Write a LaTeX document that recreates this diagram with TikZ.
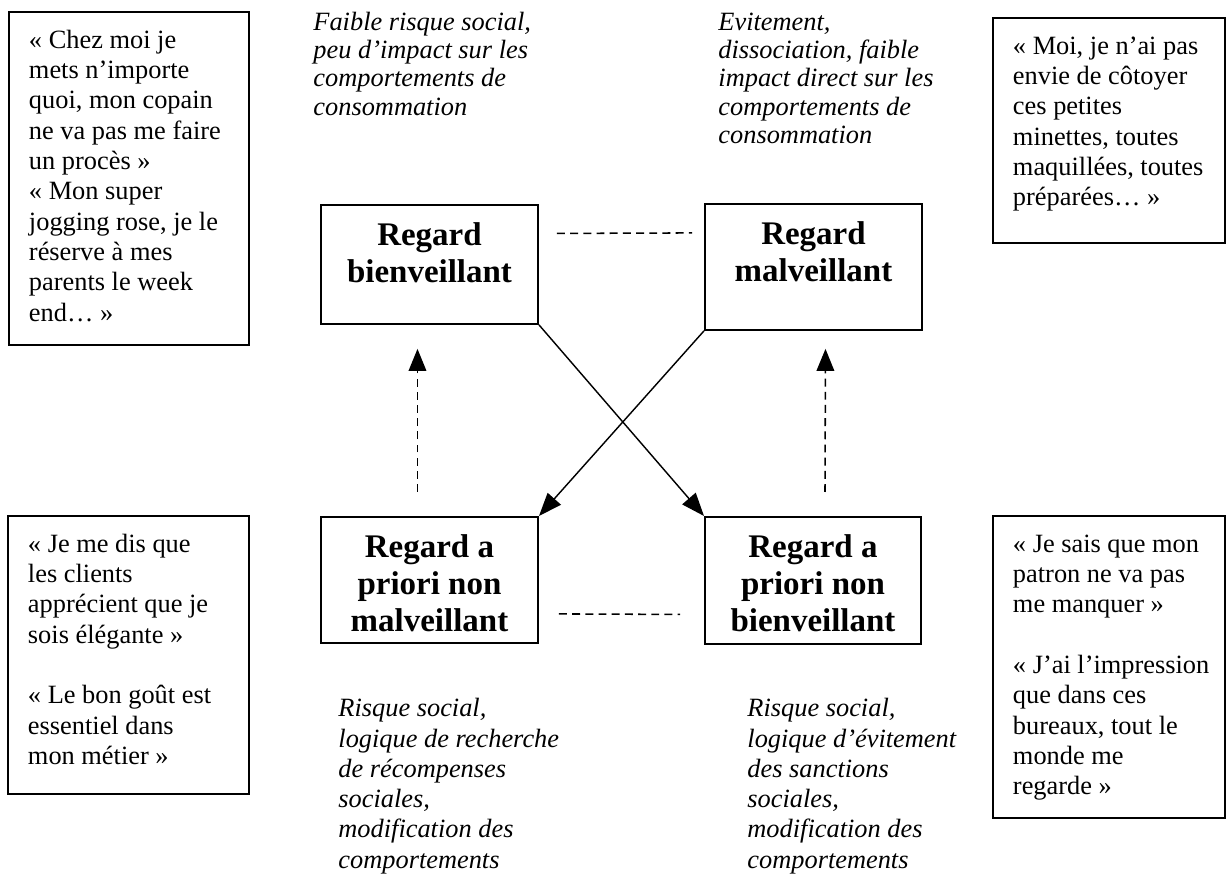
\documentclass[tikz,border=0pt]{standalone}
\usepackage{fontspec}
\setmainfont{Liberation Serif}
\usetikzlibrary{arrows.meta}

\newdimen\px
\px=0.455pt
\newcommand{\quotetext}[3]{\parbox[c][#2\px][t]{#1\px}{\raggedright\leftskip=20\px\strut #3}}
\newcommand{\regardtext}[3]{\parbox[c][#2\px][t]{#1\px}{\centering\strut #3}}

\begin{document}
\begin{tikzpicture}[x=0.455pt, y=-0.455pt,
    quotebox/.style={draw, line width=0.9pt, anchor=north west, inner xsep=0pt, inner ysep=6.8pt,
        font=\fontsize{12}{13.8}\selectfont},
    regardbox/.style={draw, line width=0.9pt, anchor=north west, inner xsep=0pt, inner ysep=6.8pt,
        font=\fontsize{15}{16.8}\selectfont\bfseries},
    comment/.style={anchor=north west, inner sep=0pt, align=left,
        font=\fontsize{12}{13.8}\selectfont\itshape},
    topcomment/.style={comment, font=\fontsize{12}{12.9}\selectfont\itshape},
    arrow/.style={line width=0.65pt, -{Triangle[length=10.5pt,width=8pt]}},
    dashline/.style={line width=0.7pt, dash pattern=on 3.6pt off 2.4pt},
    dasharrow/.style={dashline, -{Triangle[length=10pt,width=8pt]}}]
    \useasboundingbox (0,0) rectangle (1226,876);

    % Four kinds of look
    \node[regardbox] (bienv) at (320,204) {\regardtext{217}{89}{Regard\\bienveillant}};
    \node[regardbox] (malv) at (704,203) {\regardtext{217}{96}{Regard\\malveillant}};
    \node[regardbox] (apnm) at (320,516) {\regardtext{217}{96}{Regard a\\priori non\\malveillant}};
    \node[regardbox] (apnb) at (704,516) {\regardtext{216}{97}{Regard a\\priori non\\bienveillant}};

    % Quotes
    \node[quotebox] (chezmoi) at (8,11) {\quotetext{240}{303}{« Chez moi je\\mets n’importe\\quoi, mon copain\\ne va pas me faire\\un procès »\\« Mon super\\jogging rose, je le\\réserve à mes\\parents le week\\end… »}};
    \node[quotebox] (moi) at (992,17) {\quotetext{232}{195}{« Moi, je n’ai pas\\envie de côtoyer\\ces petites\\minettes, toutes\\maquillées, toutes\\préparées… »}};
    \node[quotebox] (jemedis) at (7,515) {\quotetext{241}{248}{« Je me dis que\\les clients\\apprécient que je\\sois élégante »\\[13.8pt]« Le bon goût est\\essentiel dans\\mon métier »}};
    \node[quotebox] (jesais) at (992,515) {\quotetext{232}{272}{« Je sais que mon\\patron ne va pas\\me manquer »\\[13.8pt]« J’ai l’impression\\que dans ces\\bureaux, tout le\\monde me\\regarde »}};

    % Comments
    \node[topcomment] (faible) at (313,10) {\strut Faible risque social,\\peu d’impact sur les\\comportements de\\consommation};
    \node[topcomment] (evit) at (718,10) {\strut Evitement,\\dissociation, faible\\impact direct sur les\\comportements de\\consommation};
    \node[comment] (recomp) at (338,695) {\strut Risque social,\\logique de recherche\\de récompenses\\sociales,\\modification des\\comportements};
    \node[comment] (sanct) at (747,695) {\strut Risque social,\\logique d’évitement\\des sanctions\\sociales,\\modification des\\comportements};

    % Dashed links
    \draw[dashline] ([shift={(18,-31)}]bienv.east) -- ([shift={(-12,-34)}]malv.west);
    \draw[dashline] ([shift={(20,34)}]apnm.east) -- ([shift={(-24,34)}]apnb.west);
    \draw[dasharrow] ([shift={(-12,-24)}]apnm.north) -- ([shift={(-12,24)}]bienv.south);
    \draw[dasharrow] ([shift={(12,-24)}]apnb.north) -- ([shift={(12,18)}]malv.south);

    % Crossing arrows
    \draw[arrow] (bienv.south east) -- (apnb.north west);
    \draw[arrow] (malv.south west) -- (apnm.north east);
\end{tikzpicture}
\end{document}
